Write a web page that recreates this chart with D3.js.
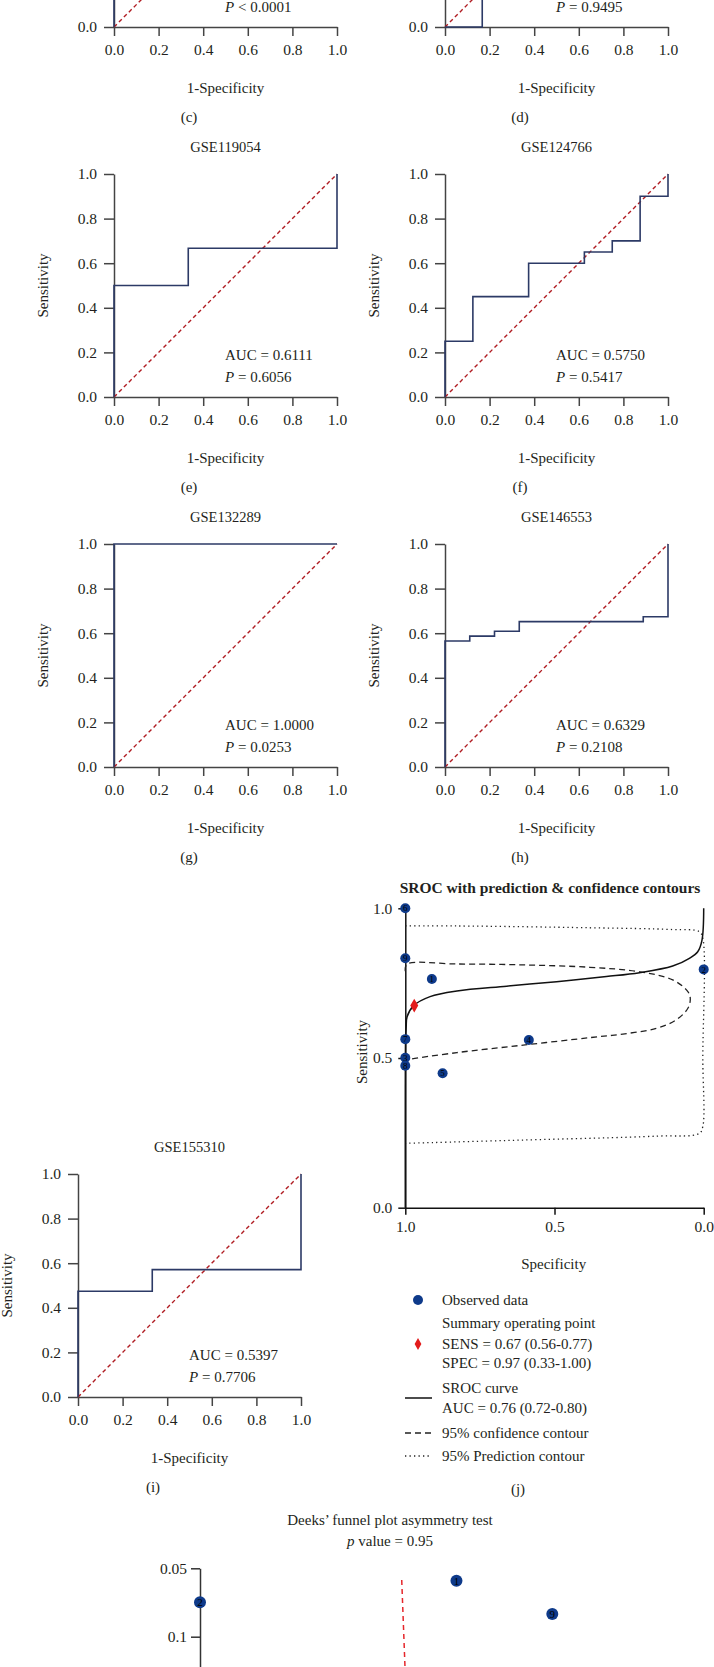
<!DOCTYPE html>
<html>
<head>
<meta charset="utf-8">
<script src="https://d3js.org/d3.v7.min.js"></script>
<style>
  body { margin: 0; background: #fff; }
  svg { display: block; font-family: "Liberation Serif", "Times New Roman", serif; }
  text { fill: #231f20; }
</style>
</head>
<body>
<svg width="714" height="1667"></svg>
<script>
// ---- data ----
var rocTicks = [0, 0.2, 0.4, 0.6, 0.8, 1.0];

// ROC curves: [1-specificity, sensitivity]
var rocC = [[0,0],[0,0.85],[0.1,0.85],[0.1,1],[1,1]];
var rocD = [[0,0],[0.167,0],[0.167,0.6],[1,0.6],[1,1]];
var rocE = [[0,0],[0,0.5],[0.333,0.5],[0.333,0.667],[1,0.667],[1,1]];
var rocF = [[0,0],[0,0.25],[0.125,0.25],[0.125,0.45],[0.375,0.45],[0.375,0.6],[0.625,0.6],[0.625,0.65],[0.75,0.65],[0.75,0.7],[0.875,0.7],[0.875,0.9],[1,0.9],[1,1]];
var rocG = [[0,0],[0,1],[1,1]];
var rocH = [[0,0],[0,0.565],[0.111,0.565],[0.111,0.587],[0.222,0.587],[0.222,0.609],[0.333,0.609],[0.333,0.652],[0.889,0.652],[0.889,0.674],[1,0.674],[1,1]];
var rocI = [[0,0],[0,0.474],[0.333,0.474],[0.333,0.571],[1,0.571],[1,1]];

// SROC panel: [specificity, sensitivity]
var srocTicks = [0, 0.5, 1.0];
var srocCurve = [[1,0],[1,0.4],[0.999,0.56],[0.997,0.605],[0.994,0.638],[0.972,0.675],[0.917,0.705],[0.827,0.724],[0.66,0.74],[0.493,0.755],[0.326,0.772],[0.215,0.785],[0.104,0.807],[0.048,0.833],[0.02,0.855],[0.0057,0.894],[0,1]];
var confContour = [[1,0.79],[0.995,0.813],[0.827,0.814],[0.605,0.811],[0.382,0.803],[0.215,0.788],[0.104,0.761],[0.053,0.722],[0.045,0.699],[0.053,0.666],[0.093,0.627],[0.159,0.599],[0.271,0.58],[0.382,0.568],[0.605,0.543],[0.827,0.518],[0.995,0.493],[1,0.49]];
var predContour = [[1,0.941],[0.827,0.941],[0.382,0.935],[0.104,0.929],[0.015,0.922],[0.003,0.9],[0.003,0.5],[0.003,0.271],[0.015,0.248],[0.159,0.239],[0.605,0.226],[1,0.215]];
var studyId = [1, 2, 3, 4, 5, 6, 7, 8, 9];
var studySpec = [0.911, 0.0, 1.0, 0.586, 0.875, 1.0, 1.0, 1.0, 1.0];
var studySens = [0.764, 0.796, 0.501, 0.560, 0.449, 1.0, 0.563, 0.474, 0.833];
var summaryPoint = [0.97, 0.675];
var legendLines = ["Observed data", "Summary operating point", "SENS = 0.67 (0.56-0.77)", "SPEC = 0.97 (0.33-1.00)", "SROC curve", "AUC = 0.76 (0.72-0.80)", "95% confidence contour", "95% Prediction contour"];

// Deeks' funnel plot: diagnostic odds ratio, 1/sqrt(ESS)
var funnelTicks = [0.05, 0.1, 0.15];
var funnelId = [2, 1, 9];
var funnelDor = [1, 277, 2265];
var funnelEss = [0.0749, 0.0591, 0.0834];
var funnelLine = [[83.4, 0.0586], [97.8, 0.2]];

var navy = "#2c3a66", redDash = "#b01c22", dotBlue = "#0e3a8a", axisGrey = "#444";

var svg = d3.select("svg");
var size = 223;

var panels = [
  {tag:"(c)", left:114, top:-196, data:rocC, title:null, auc:null, p:"< 0.0001"},
  {tag:"(d)", left:445, top:-196, data:rocD, title:null, auc:null, p:"= 0.9495"},
  {tag:"(e)", left:114, top:174, data:rocE, title:"GSE119054", auc:"0.6111", p:"= 0.6056"},
  {tag:"(f)", left:445, top:174, data:rocF, title:"GSE124766", auc:"0.5750", p:"= 0.5417"},
  {tag:"(g)", left:114, top:544, data:rocG, title:"GSE132289", auc:"1.0000", p:"= 0.0253"},
  {tag:"(h)", left:445, top:544, data:rocH, title:"GSE146553", auc:"0.6329", p:"= 0.2108"},
  {tag:"(i)", left:78, top:1174, data:rocI, title:"GSE155310", auc:"0.5397", p:"= 0.7706"}
];

function styleAxis(g, col) {
  g.attr("font-family", null).attr("font-size", 15.5).attr("color", col);
  g.selectAll("path, line").attr("stroke-width", 1.5);
  g.selectAll("text").style("fill", "#231f20");
}

panels.forEach(function(p) {
  var x = d3.scaleLinear().domain([0, 1]).range([p.left, p.left + size]);
  var y = d3.scaleLinear().domain([0, 1]).range([p.top + size, p.top]);
  var line = d3.line().x(function(d) { return x(d[0]); }).y(function(d) { return y(d[1]); });
  var g = svg.append("g");

  g.append("g")
   .attr("transform", "translate(0," + y(0) + ")")
   .call(d3.axisBottom(x).tickValues(rocTicks).tickFormat(d3.format(".1f")).tickSize(9).tickSizeOuter(0).tickPadding(8))
   .call(styleAxis, axisGrey);
  g.append("g")
   .attr("transform", "translate(" + x(0) + ",0)")
   .call(d3.axisLeft(y).tickValues(rocTicks).tickFormat(d3.format(".1f")).tickSize(10).tickSizeOuter(0).tickPadding(7))
   .call(styleAxis, axisGrey);

  g.append("path").datum([[0, 0], [1, 1]])
   .attr("d", line).attr("fill", "none")
   .attr("stroke", redDash).attr("stroke-width", 1.4).attr("stroke-dasharray", "4,3");

  g.append("path").datum(p.data)
   .attr("d", line).attr("fill", "none")
   .attr("stroke", navy).attr("stroke-width", 1.6);

  if (p.title) {
    g.append("text").attr("x", x(0.5)).attr("y", p.top - 27).attr("dy", "0.35em")
     .attr("text-anchor", "middle").attr("font-size", 14.5).text(p.title);
  }
  if (p.auc) {
    g.append("text").attr("x", p.left + 111).attr("y", p.top + 181).attr("dy", "0.35em")
     .attr("font-size", 15).text("AUC = " + p.auc);
  }
  var pt = g.append("text").attr("x", p.left + 111).attr("y", p.top + 203).attr("dy", "0.35em").attr("font-size", 15);
  pt.append("tspan").attr("font-style", "italic").text("P");
  pt.append("tspan").text(" " + p.p);

  g.append("text").attr("x", x(0.5)).attr("y", y(0) + 61).attr("dy", "0.35em")
   .attr("text-anchor", "middle").attr("font-size", 15).text("1-Specificity");
  g.append("text").attr("transform", "translate(" + (p.left - 71) + "," + y(0.5) + ") rotate(-90)")
   .attr("dy", "0.35em").attr("text-anchor", "middle").attr("font-size", 15).text("Sensitivity");
  g.append("text").attr("x", p.left + 75).attr("y", y(0) + 90).attr("dy", "0.35em")
   .attr("text-anchor", "middle").attr("font-size", 15).text(p.tag);
});

// ---- SROC panel (j) ----
var sx = d3.scaleLinear().domain([1, 0]).range([405.3, 703.7]);
var sy = d3.scaleLinear().domain([0, 1]).range([1207.7, 908.3]);
var sline = d3.line().x(function(d) { return sx(d[0]); }).y(function(d) { return sy(d[1]); });
var sj = svg.append("g");

sj.append("text").attr("x", 550).attr("y", 888).attr("dy", "0.35em").attr("text-anchor", "middle")
  .attr("font-size", 15.5).attr("font-weight", "bold").text("SROC with prediction & confidence contours");

sj.append("g").attr("transform", "translate(0," + sy(0) + ")")
  .call(d3.axisBottom(sx).tickValues(srocTicks).tickFormat(d3.format(".1f")).tickSize(7).tickSizeOuter(0).tickPadding(6))
  .call(styleAxis, "#111");
sj.append("g").attr("transform", "translate(" + sx(1) + ",0)")
  .call(d3.axisLeft(sy).tickValues(srocTicks).tickFormat(d3.format(".1f")).tickSize(7).tickSizeOuter(0).tickPadding(6))
  .call(styleAxis, "#111");

sj.append("path").datum(predContour).attr("d", sline.curve(d3.curveCatmullRom.alpha(0.5)))
  .attr("fill", "none").attr("stroke", "#222").attr("stroke-width", 1.3).attr("stroke-dasharray", "1.3,3.2");
sj.append("path").datum(confContour).attr("d", sline.curve(d3.curveCatmullRom.alpha(0.5)))
  .attr("fill", "none").attr("stroke", "#222").attr("stroke-width", 1.3).attr("stroke-dasharray", "6,4");
sj.append("path").datum(srocCurve).attr("d", sline.curve(d3.curveCatmullRom.alpha(0.5)))
  .attr("fill", "none").attr("stroke", "#111").attr("stroke-width", 1.5);

var obs = sj.selectAll(".obs").data(studyId).enter().append("g").attr("class", "obs")
  .attr("transform", function(d, i) { return "translate(" + sx(studySpec[i]) + "," + sy(studySens[i]) + ")"; });
obs.append("circle").attr("r", 5).attr("fill", dotBlue);
obs.append("text").attr("text-anchor", "middle").attr("dy", "0.35em").attr("font-size", 9)
  .style("fill", "#000").text(function(d) { return d; });

sj.append("path").attr("d", d3.symbol().type(d3.symbolDiamond).size(55)())
  .attr("transform", "translate(" + sx(summaryPoint[0]) + "," + sy(summaryPoint[1]) + ")")
  .attr("fill", "#e31b1b");

sj.append("text").attr("x", 553.7).attr("y", 1264).attr("dy", "0.35em").attr("text-anchor", "middle")
  .attr("font-size", 15).text("Specificity");
sj.append("text").attr("transform", "translate(362,1052) rotate(-90)").attr("dy", "0.35em")
  .attr("text-anchor", "middle").attr("font-size", 15).text("Sensitivity");

// legend
var legY = [1300, 1323, 1344, 1363, 1387.7, 1408, 1433, 1456];
sj.selectAll(".leg").data(legendLines).enter().append("text")
  .attr("x", 442).attr("y", function(d, i) { return legY[i]; }).attr("dy", "0.35em")
  .attr("font-size", 15).text(function(d) { return d; });
sj.append("circle").attr("cx", 418).attr("cy", 1300).attr("r", 5).attr("fill", dotBlue);
sj.append("path").attr("d", d3.symbol().type(d3.symbolDiamond).size(40)())
  .attr("transform", "translate(418,1344)").attr("fill", "#e31b1b");
sj.append("line").attr("x1", 405).attr("x2", 432).attr("y1", 1398).attr("y2", 1398).attr("stroke", "#111").attr("stroke-width", 1.5);
sj.append("line").attr("x1", 405).attr("x2", 432).attr("y1", 1433).attr("y2", 1433).attr("stroke", "#222").attr("stroke-width", 1.3).attr("stroke-dasharray", "6,4");
sj.append("line").attr("x1", 405).attr("x2", 432).attr("y1", 1456).attr("y2", 1456).attr("stroke", "#222").attr("stroke-width", 1.3).attr("stroke-dasharray", "1.3,3.2");
sj.append("text").attr("x", 518).attr("y", 1489).attr("dy", "0.35em").attr("text-anchor", "middle").attr("font-size", 15).text("(j)");

// ---- Deeks' funnel plot ----
var fx = d3.scaleLog().domain([1, 10000]).range([200, 620]);
var fy = d3.scaleLinear().domain([0.05, 0.2]).range([1568.3, 1773.5]);
var fg = svg.append("g");
fg.append("text").attr("x", 390).attr("y", 1520).attr("dy", "0.35em").attr("text-anchor", "middle")
  .attr("font-size", 15).text("Deeks\u2019 funnel plot asymmetry test");
var pv = fg.append("text").attr("x", 390).attr("y", 1541).attr("dy", "0.35em").attr("text-anchor", "middle").attr("font-size", 15);
pv.append("tspan").attr("font-style", "italic").text("p");
pv.append("tspan").text(" value = 0.95");

fg.append("g").attr("transform", "translate(" + fx(1) + ",0)")
  .call(d3.axisLeft(fy).tickValues(funnelTicks).tickFormat(function(d) { return d === 0.05 ? "0.05" : d3.format("")(d); }).tickSize(9).tickSizeOuter(0).tickPadding(4))
  .call(styleAxis, "#333");

fg.append("path").datum(funnelLine)
  .attr("d", d3.line().x(function(d) { return fx(d[0]); }).y(function(d) { return fy(d[1]); }))
  .attr("fill", "none").attr("stroke", "#e5262b").attr("stroke-width", 1.5).attr("stroke-dasharray", "5,4");

var fp = fg.selectAll(".fp").data(funnelId).enter().append("g").attr("class", "fp")
  .attr("transform", function(d, i) { return "translate(" + fx(funnelDor[i]) + "," + fy(funnelEss[i]) + ")"; });
fp.append("circle").attr("r", 6).attr("fill", dotBlue);
fp.append("text").attr("text-anchor", "middle").attr("dy", "0.35em").attr("font-size", 11)
  .style("fill", "#000").text(function(d) { return d; });

// drop labels that fall entirely outside the page (upper part of panels c and d)
svg.selectAll("text").each(function() {
  var b = this.getBoundingClientRect();
  if (b.bottom < 0 || b.top > 1667) d3.select(this).remove();
});
</script>
</body>
</html>
